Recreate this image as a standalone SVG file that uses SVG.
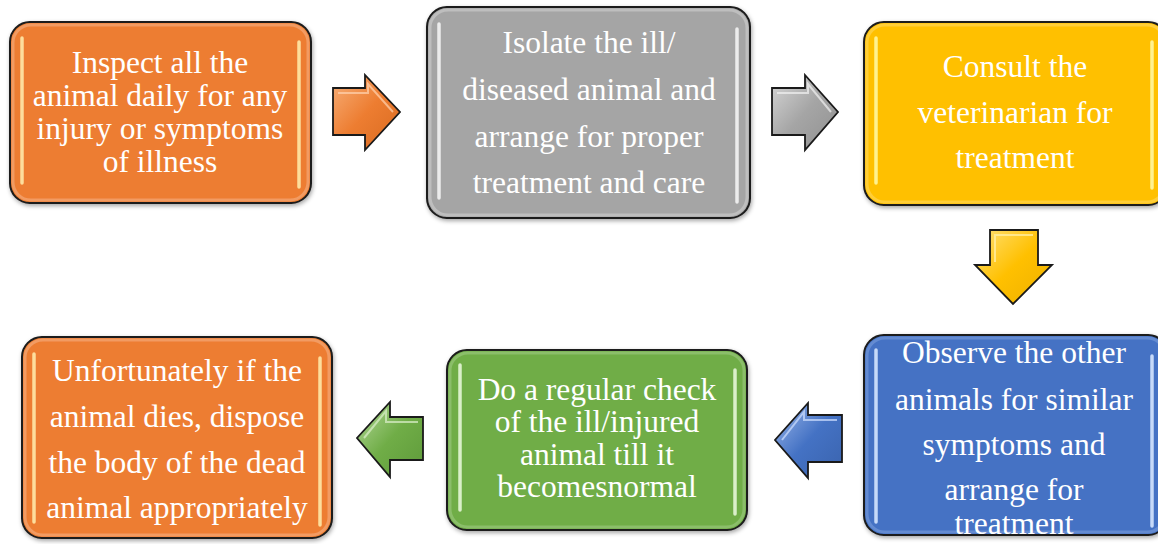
<svg xmlns="http://www.w3.org/2000/svg" width="1158" height="544" viewBox="0 0 1158 544">
<style>
.box{stroke:#1a1a1a;stroke-width:2}
.inner{fill:none;stroke-width:3;opacity:0.55}
.hl{stroke-width:3.5;stroke-linecap:round;opacity:0.9}
.t{font-family:"Liberation Serif","Times New Roman",serif;font-size:31.5px;fill:#ffffff;text-anchor:middle}
.arr{stroke:#1a1a1a;stroke-width:1.8;stroke-linejoin:miter}
.bev{fill:none;stroke-width:2;opacity:0.7}
</style>
<defs>
<filter id="sh" x="-10%" y="-10%" width="120%" height="120%">
<feDropShadow dx="1" dy="2" stdDeviation="2" flood-color="#000" flood-opacity="0.35"/>
</filter>
<linearGradient id="gO" x1="0" y1="0" x2="1" y2="1"><stop offset="0" stop-color="#F7B07A"/><stop offset="0.5" stop-color="#ED7D31"/><stop offset="1" stop-color="#D86A20"/></linearGradient>
<linearGradient id="gG" x1="0" y1="0" x2="1" y2="1"><stop offset="0" stop-color="#D8D8D8"/><stop offset="0.5" stop-color="#A5A5A5"/><stop offset="1" stop-color="#909090"/></linearGradient>
<linearGradient id="gY" x1="0" y1="0" x2="1" y2="1"><stop offset="0" stop-color="#FFE27A"/><stop offset="0.5" stop-color="#FFC000"/><stop offset="1" stop-color="#EDB000"/></linearGradient>
<linearGradient id="gB" x1="0" y1="0" x2="1" y2="1"><stop offset="0" stop-color="#9DB8EA"/><stop offset="0.5" stop-color="#4472C4"/><stop offset="1" stop-color="#3A63AD"/></linearGradient>
<linearGradient id="gGr" x1="0" y1="0" x2="1" y2="1"><stop offset="0" stop-color="#B5D99C"/><stop offset="0.5" stop-color="#70AD47"/><stop offset="1" stop-color="#5E9A3A"/></linearGradient>
</defs>

<g id="connectors">
<g id="arrow-1-2">
<polygon class="arr" fill="url(#gO)" points="333,88 365,88 365,75 400,112 365,150 365,135 333,135"/>
<polyline class="bev" stroke="#FFD3B0" points="338,93 368,93 368,84 393,112"/>
</g>
<g id="arrow-2-3">
<polygon class="arr" fill="url(#gG)" points="772,88 805,88 805,75 838,112 805,150 805,135 772,135"/>
<polyline class="bev" stroke="#F2F2F2" points="777,93 808,93 808,84 831,112"/>
</g>
<g id="arrow-3-4">
<polygon class="arr" fill="url(#gY)" points="990,230 1038,230 1038,265 1052,265 1013,304 975,265 990,265"/>
<polyline class="bev" stroke="#FFF2B0" points="995,262 995,235 1033,235"/>
</g>
<g id="arrow-4-5">
<polygon class="arr" fill="url(#gB)" points="842,415 808,415 808,403 775,440 808,478 808,462 842,462"/>
<polyline class="bev" stroke="#D0E0FF" points="837,420 804,420 804,412 782,440"/>
</g>
<g id="arrow-5-6">
<polygon class="arr" fill="url(#gGr)" points="423,417 390,417 390,402 357,438 390,477 390,460 423,460"/>
<polyline class="bev" stroke="#DDF0CC" points="418,422 386,422 386,411 364,438"/>
</g>
</g>

<g id="node-1">
<rect class="box" x="10" y="22" width="301" height="181" rx="20" fill="#ED7D31" filter="url(#sh)"/>
<rect class="inner" x="13" y="25" width="295" height="175" rx="18" stroke="#F6B48A"/>
<line class="hl" x1="22" y1="38" x2="22" y2="183" stroke="#FFE9A8"/>
<line class="hl" x1="299" y1="42" x2="299" y2="187" stroke="#FFE9A8"/>
<text class="t" x="160" y="73">Inspect all the</text>
<text class="t" x="160" y="106">animal daily for any</text>
<text class="t" x="160" y="139">injury or symptoms</text>
<text class="t" x="160" y="172">of illness</text>
</g>

<g id="node-2">
<rect class="box" x="427" y="7" width="323" height="211" rx="20" fill="#A5A5A5" filter="url(#sh)"/>
<rect class="inner" x="430" y="10" width="317" height="205" rx="18" stroke="#D4D4D4"/>
<line class="hl" x1="439" y1="24" x2="439" y2="198" stroke="#F4F4F4"/>
<line class="hl" x1="737" y1="29" x2="737" y2="202" stroke="#F4F4F4"/>
<text class="t" x="589" y="53">Isolate the ill/</text>
<text class="t" x="589" y="100">diseased animal and</text>
<text class="t" x="589" y="147">arrange for proper</text>
<text class="t" x="589" y="193">treatment and care</text>
</g>

<g id="node-3">
<rect class="box" x="864" y="22" width="304" height="183" rx="20" fill="#FFC000" filter="url(#sh)"/>
<rect class="inner" x="867" y="25" width="298" height="177" rx="18" stroke="#FFD966"/>
<line class="hl" x1="876" y1="38" x2="876" y2="183" stroke="#FFF8A0"/>
<line class="hl" x1="1152" y1="42" x2="1152" y2="188" stroke="#FFF8A0"/>
<text class="t" x="1015" y="77">Consult the</text>
<text class="t" x="1015" y="123">veterinarian for</text>
<text class="t" x="1015" y="168">treatment</text>
</g>

<g id="node-4">
<rect class="box" x="864" y="335" width="304" height="200" rx="20" fill="#4472C4" filter="url(#sh)"/>
<rect class="inner" x="867" y="338" width="298" height="194" rx="18" stroke="#7EA0DD"/>
<line class="hl" x1="876" y1="350" x2="876" y2="522" stroke="#D6E6FF"/>
<line class="hl" x1="1152" y1="356" x2="1152" y2="526" stroke="#D6E6FF"/>
<text class="t" x="1014" y="363">Observe the other</text>
<text class="t" x="1014" y="410">animals for similar</text>
<text class="t" x="1014" y="455">symptoms and</text>
<text class="t" x="1014" y="500">arrange for</text>
<text class="t" x="1014" y="534">treatment</text>
</g>

<g id="node-5">
<rect class="box" x="447" y="350" width="300" height="180" rx="20" fill="#70AD47" filter="url(#sh)"/>
<rect class="inner" x="450" y="353" width="294" height="174" rx="18" stroke="#A3CC87"/>
<line class="hl" x1="460" y1="365" x2="460" y2="510" stroke="#E6F7D8"/>
<line class="hl" x1="735" y1="370" x2="735" y2="514" stroke="#E6F7D8"/>
<text class="t" x="597" y="400">Do a regular check</text>
<text class="t" x="597" y="432">of the ill/injured</text>
<text class="t" x="597" y="465">animal till it</text>
<text class="t" x="597" y="497">becomesnormal</text>
</g>

<g id="node-6">
<rect class="box" x="22" y="337" width="310" height="201" rx="20" fill="#ED7D31" filter="url(#sh)"/>
<rect class="inner" x="25" y="340" width="304" height="195" rx="18" stroke="#F6B48A"/>
<line class="hl" x1="34" y1="354" x2="34" y2="522" stroke="#FFE9A8"/>
<line class="hl" x1="320" y1="358" x2="320" y2="525" stroke="#FFE9A8"/>
<text class="t" x="177" y="381">Unfortunately if the</text>
<text class="t" x="177" y="427">animal dies, dispose</text>
<text class="t" x="177" y="473">the body of the dead</text>
<text class="t" x="177" y="518">animal appropriately</text>
</g>
</svg>
